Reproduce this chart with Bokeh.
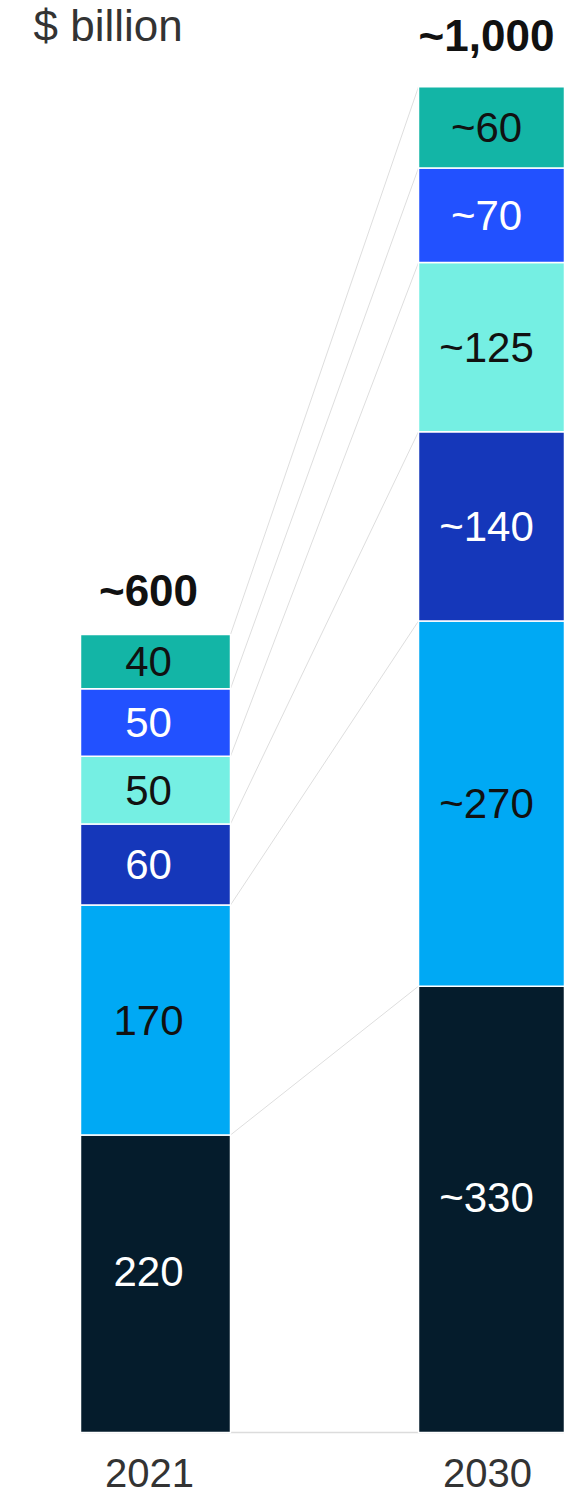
import numpy as np
from bokeh.plotting import figure
from bokeh.models import ColumnDataSource, Range1d
from bokeh.core.properties import value
from bokeh.embed import file_html
from bokeh.resources import INLINE

# Market size by segment, $ billion (stacked bottom to top)
years = ["2021", "2030"]
values_2021 = [220, 170, 60, 50, 50, 40]
values_2030 = [330, 270, 140, 125, 70, 60]
labels_2021 = ["220", "170", "60", "50", "50", "40"]
labels_2030 = ["~330", "~270", "~140", "~125", "~70", "~60"]
total_labels = ["~600", "~1,000"]
unit_label = "$ billion"

colors = ["#051c2c", "#00a9f4", "#1537ba", "#75efe3", "#2251ff", "#13b5a6"]
text_colors = ["white", "#111111", "white", "#111111", "white", "#111111"]
# the tall bottom segment carries its label a little above centre
label_shift = [-12, 0, 0, 0, 0, 0]

FONT = value("Liberation Sans")
BAR_W = 0.4438
xpos = [0, 1]

p = figure(width=564, height=1496, output_backend="svg", toolbar_location=None,
           x_axis_type=None, y_axis_type=None, min_border=0,
           x_range=Range1d(-0.45858, 1.21006), y_range=Range1d(-47.3, 1058.8))
p.outline_line_color = None
p.grid.visible = False
p.background_fill_color = "white"

series = [values_2021, values_2030]
seg_labels = [labels_2021, labels_2030]

# Baseline
p.segment(x0=[xpos[0] - BAR_W / 2], x1=[xpos[1] + BAR_W / 2], y0=[0], y1=[0],
          line_color="#dcdcdc", line_width=1.5)

# Connectors between the tops of matching segments
tops_a = np.cumsum(values_2021)
tops_b = np.cumsum(values_2030)
p.segment(x0=[xpos[0] + BAR_W / 2] * len(tops_a), y0=tops_a,
          x1=[xpos[1] - BAR_W / 2] * len(tops_b), y1=tops_b,
          line_color="#dedede", line_width=1)

for i, vals in enumerate(series):
    tops = np.cumsum(vals)
    bottoms = tops - np.array(vals)
    src = ColumnDataSource(dict(
        x=[xpos[i]] * len(vals), top=tops, bottom=bottoms,
        mid=(tops + bottoms) / 2, color=colors, tcolor=text_colors,
        label=seg_labels[i], dy=label_shift))
    p.vbar(x="x", top="top", bottom="bottom", width=BAR_W, fill_color="color",
           line_color="white", line_width=1.5, source=src)
    p.text(x="x", y="mid", text="label", text_color="tcolor", source=src,
           text_font=FONT, text_font_size="42px", text_align="center",
           text_baseline="middle", x_offset=-7, y_offset="dy")

# Totals above the bars
totals = [sum(v) for v in series]
p.text(x=[xpos[0]], y=[totals[0]], text=[total_labels[0]], text_font=FONT,
       text_font_size="44px", text_font_style="bold", text_color="#111111",
       text_align="center", text_baseline="middle", x_offset=-7, y_offset=-44)
p.text(x=[xpos[1]], y=[totals[1]], text=[total_labels[1]], text_font=FONT,
       text_font_size="44px", text_font_style="bold", text_color="#111111",
       text_align="center", text_baseline="middle", x_offset=-7, y_offset=-51)

# Year labels under the bars
p.text(x=xpos, y=[-30.7, -30.7], text=years, text_font=FONT,
       text_font_size="40px", text_color="#333333", text_align="center",
       text_baseline="middle", x_offset=-6, y_offset=-1)

# Unit label at the top left
p.text(x=[-0.361], y=[1058.8], text=[unit_label], text_font=FONT,
       text_font_size="44px", text_color="#333333", text_align="left",
       text_baseline="top", y_offset=0)

open("out.html", "w").write(file_html(p, INLINE))
